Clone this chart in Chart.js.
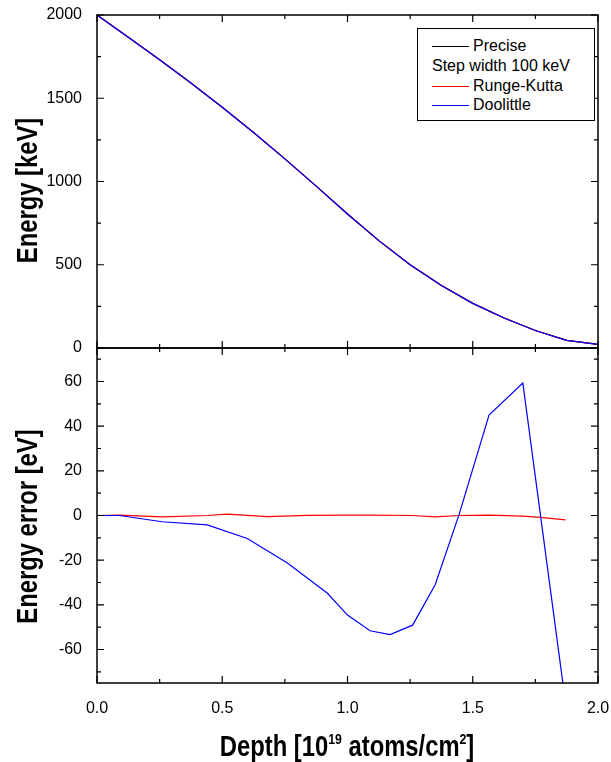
<!DOCTYPE html>
<html>
<head>
<meta charset="utf-8">
<script src="https://cdn.jsdelivr.net/npm/chart.js@4.4.0/dist/chart.umd.min.js"></script>
<style>
  body { margin: 0; background: #fff; }
  #wrap { position: relative; width: 611px; height: 762px; font-family: "Liberation Sans", Arial, sans-serif; }
  canvas { position: absolute; left: 0; top: 0; }
  #legend {
    position: absolute; left: 417px; top: 28px; width: 178px; height: 93px;
    box-sizing: border-box; border: 1px solid #000; background: #fff;
    font-size: 16px; color: #000;
  }
  #legend .row { position: absolute; left: 0; height: 18px; line-height: 18px; white-space: nowrap; }
  #legend .ln { position: absolute; left: 14px; top: 9px; width: 37px; height: 0; border-top: 1px solid #000; }
  #legend .tx { position: absolute; left: 55px; top: 0; }
  .title {
    position: absolute; text-align: center; font-weight: bold; font-size: 29px;
    line-height: 29px; height: 29px; color: #000; white-space: nowrap;
  }
  #xtitle { left: 47px; width: 600px; top: 732px; transform: scaleX(0.82); transform-origin: 300.5px 50%; }
  #xtitle sup { font-size: 15px; line-height: 0; vertical-align: 12px; }
  .ytitle { width: 300px; transform: rotate(-90deg) scaleX(0.82); transform-origin: 50% 50%; }
</style>
</head>
<body>
<div id="wrap">
  <canvas id="topChart" width="611" height="762"></canvas>
  <canvas id="bottomChart" width="611" height="762"></canvas>
  <div id="legend">
    <div class="row" style="top:8px;"><span class="ln"></span><span class="tx">Precise</span></div>
    <div class="row" style="top:28px; left:14px;">Step width 100 keV</div>
    <div class="row" style="top:48px;"><span class="ln" style="border-color:#ff0000;"></span><span class="tx">Runge-Kutta</span></div>
    <div class="row" style="top:67px;"><span class="ln" style="border-color:#0000ff;"></span><span class="tx">Doolittle</span></div>
  </div>
  <div class="title ytitle" style="left:-123.5px; top:176px;">Energy [keV]</div>
  <div class="title ytitle" style="left:-123.5px; top:511.5px;">Energy error [eV]</div>
  <div class="title" id="xtitle">Depth [10<sup>19</sup> atoms/cm<sup>2</sup>]</div>
</div>
<script>
// top panel: energy vs depth
const depth = [0, 0.125, 0.25, 0.375, 0.5, 0.625, 0.75, 0.875, 1.0, 1.125, 1.25, 1.375, 1.5, 1.625, 1.75, 1.875, 2.0];
const energyPrecise = [2000, 1867, 1731, 1591, 1446, 1294, 1136, 972, 805, 645, 500, 375, 268, 180, 105, 46, 22];
const energyRK = [2000, 1867, 1731, 1591, 1446, 1294, 1136, 972, 805, 645, 500, 375, 268, 180, 105, 46, 22];
const energyDoolittle = [2000, 1867, 1731, 1591, 1446, 1294, 1136, 972, 805, 645, 500, 375, 268, 180, 105, 46, 22];

// bottom panel: energy error
const rkDepth = [0, 0.09, 0.26, 0.44, 0.52, 0.68, 0.84, 1.0, 1.09, 1.26, 1.35, 1.445, 1.565, 1.7, 1.77, 1.87];
const rkError = [0, 0.2, -0.6, 0, 0.6, -0.5, 0.1, 0.2, 0.2, 0, -0.6, 0, 0.2, -0.3, -0.8, -2.0];
const dlDepth = [0, 0.09, 0.26, 0.44, 0.6, 0.76, 0.92, 1.0, 1.09, 1.17, 1.26, 1.35, 1.445, 1.565, 1.7, 1.88];
const dlError = [0, 0, -2.8, -4.2, -10.3, -21.3, -34.8, -44.6, -51.6, -53.3, -49.1, -31.0, 0.3, 45.0, 59.3, -92];

const FONT = "'Liberation Sans', Arial, sans-serif";

function pts(xs, ys) {
  return xs.map((x, i) => ({ x: x, y: ys[i] }));
}

// order 0 is painted last (on top)
function line(label, xs, ys, color, order) {
  return {
    label,
    data: pts(xs, ys),
    borderColor: color,
    borderWidth: 1.2,
    pointRadius: 0,
    tension: 0,
    fill: false,
    order,
  };
}

// box round the plot with inward major/minor ticks
const frame = {
  id: "frame",
  afterDatasetsDraw(chart, args, opts) {
    const { ctx, chartArea: a, scales } = chart;
    ctx.save();
    ctx.strokeStyle = "#000";
    ctx.lineWidth = 1.5;
    ctx.strokeRect(a.left, a.top, a.right - a.left, a.bottom - a.top);

    const marks = (scale, step, fn) => {
      const half = step / 2;
      const i0 = Math.ceil(scale.min / half - 1e-9);
      const i1 = Math.floor(scale.max / half + 1e-9);
      for (let i = i0; i <= i1; i++) {
        fn(scale.getPixelForValue(i * half), i % 2 === 0 ? 7 : 4);
      }
    };

    ctx.lineWidth = 1.2;
    ctx.beginPath();
    marks(scales.x, opts.xStep, (px, len) => {
      ctx.moveTo(px, a.bottom); ctx.lineTo(px, a.bottom - len);
      ctx.moveTo(px, a.top); ctx.lineTo(px, a.top + len);
    });
    marks(scales.y, opts.yStep, (py, len) => {
      ctx.moveTo(a.left, py); ctx.lineTo(a.left + len, py);
      ctx.moveTo(a.right, py); ctx.lineTo(a.right - len, py);
    });
    ctx.stroke();
    ctx.restore();
  },
};

function options(cfg) {
  return {
    responsive: false,
    animation: false,
    events: [],
    layout: { padding: cfg.padding },
    plugins: {
      legend: { display: false },
      tooltip: { enabled: false },
      frame: { xStep: 0.5, yStep: cfg.yStep },
    },
    scales: {
      x: {
        type: "linear",
        min: 0,
        max: 2,
        display: cfg.showX,
        grid: { display: false },
        border: { display: false },
        ticks: {
          stepSize: 0.5,
          color: "#000",
          padding: 8,
          maxRotation: 0,
          font: { family: FONT, size: 16 },
          callback: (v) => v.toFixed(1),
        },
        afterFit: (s) => {
          s.height = cfg.showX ? 79 : 0;
          s.paddingLeft = 0;
          s.paddingRight = 0;
        },
      },
      y: {
        min: cfg.yMin,
        max: cfg.yMax,
        grid: { display: false },
        border: { display: false },
        ticks: {
          stepSize: cfg.yStep,
          includeBounds: false,
          color: "#000",
          padding: 7,
          font: { family: FONT, size: 16 },
          callback: (v) => String(v),
        },
        afterFit: (s) => {
          s.width = 97;
          s.paddingTop = 0;
          s.paddingBottom = 0;
        },
      },
    },
  };
}

new Chart(document.getElementById("topChart"), {
  type: "line",
  data: {
    datasets: [
      line("Precise", depth, energyPrecise, "#000000", 2),
      line("Runge-Kutta", depth, energyRK, "#ff0000", 1),
      line("Doolittle", depth, energyDoolittle, "#0000ff", 0),
    ],
  },
  options: options({
    padding: { left: 0, top: 15, right: 13, bottom: 414 },
    showX: false,
    yMin: 0,
    yMax: 2000,
    yStep: 500,
  }),
  plugins: [frame],
});

new Chart(document.getElementById("bottomChart"), {
  type: "line",
  data: {
    datasets: [
      line("Runge-Kutta", rkDepth, rkError, "#ff0000", 1),
      line("Doolittle", dlDepth, dlError, "#0000ff", 0),
    ],
  },
  options: options({
    padding: { left: 0, top: 348, right: 13, bottom: 0 },
    showX: true,
    yMin: -75,
    yMax: 75,
    yStep: 20,
  }),
  plugins: [frame],
});
</script>
</body>
</html>
